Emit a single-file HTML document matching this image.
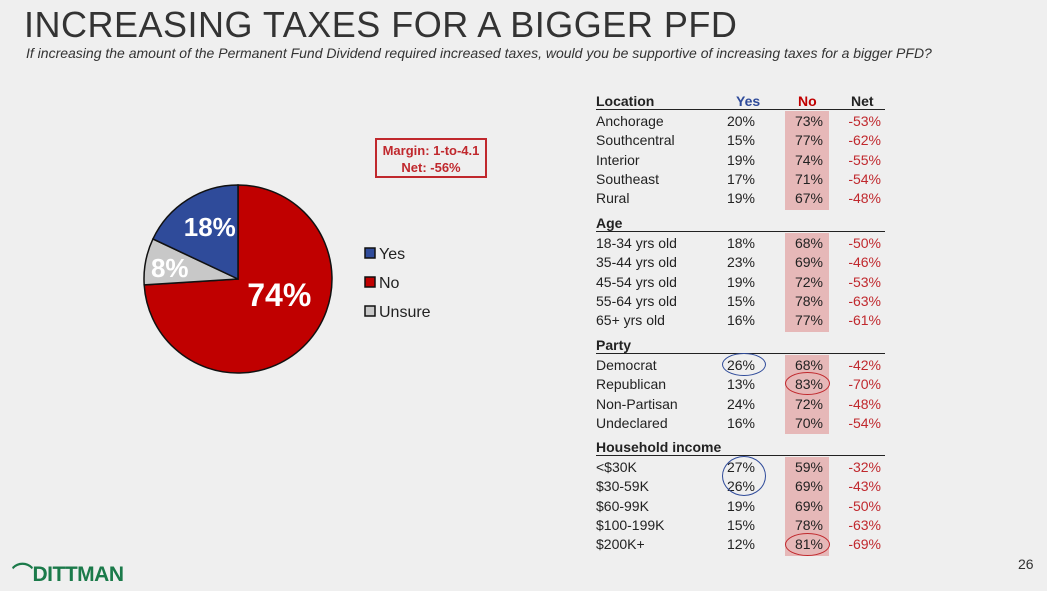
<!DOCTYPE html>
<html><head><meta charset="utf-8">
<style>
body{margin:0;width:1047px;height:591px;background:#efefef;font-family:"Liberation Sans",sans-serif;overflow:hidden;position:relative}
.a{position:absolute;white-space:nowrap}
.t{font-size:14px;color:#222;line-height:18px}
</style></head><body>
<div class="a" style="left:24px;top:4px;font-size:36px;color:#333;letter-spacing:0.5px">INCREASING TAXES FOR A BIGGER PFD</div>
<div class="a" style="left:26px;top:45px;font-size:14px;font-style:italic;color:#333">If increasing the amount of the Permanent Fund Dividend required increased taxes, would you be supportive of increasing taxes for a bigger PFD?</div>
<div class="a" style="left:375px;top:138px;width:112px;height:40px;border:2px solid #c0282d;box-sizing:border-box;color:#c0282d;font-weight:bold;font-size:13px;text-align:center;line-height:17px;padding-top:2px">Margin: 1-to-4.1<br>Net: -56%</div>
<svg id="pie" class="a" style="left:0;top:0" width="1047" height="591"></svg>
<div id="tbl"></div>
<div class="a" style="left:12px;top:558px;font-size:21px;font-weight:bold;color:#1b7a4a;letter-spacing:-0.5px">⌒DITTMAN</div>
<div class="a" style="left:1018px;top:556px;font-size:14px;color:#333">26</div>
<script>
const pieLabels=["No","Unsure","Yes"];
const pieValues=[74,8,18];
const pieColors=["#c00000","#c8c8c8","#2f4b9a"];
const legendOrder=["Yes","No","Unsure"];
const sections=["Location","Age","Party","Household income"];
const rowLabels=[["Anchorage","Southcentral","Interior","Southeast","Rural"],["18-34 yrs old","35-44 yrs old","45-54 yrs old","55-64 yrs old","65+ yrs old"],["Democrat","Republican","Non-Partisan","Undeclared"],["<$30K","$30-59K","$60-99K","$100-199K","$200K+"]];
const yesVals=[[20,15,19,17,19],[18,23,19,15,16],[26,13,24,16],[27,26,19,15,12]];
const noVals=[[73,77,74,71,67],[68,69,72,78,77],[68,83,72,70],[59,69,69,78,81]];
const netVals=[[-53,-62,-55,-54,-48],[-50,-46,-53,-63,-61],[-42,-70,-48,-54],[-32,-43,-50,-63,-69]];
const sectionTops=[92,214,336,438];
const NS="http://www.w3.org/2000/svg";
const svg=document.getElementById('pie');
const cx=238,cy=279,r=94;
const lblR=[0.5,0.62,0.62],lblDx=[7,-11,3],lblDy=[-5,9,6];
let total=pieValues.reduce((a,b)=>a+b,0),ang=0;
function pt(a,rr){return [cx+rr*Math.sin(a),cy-rr*Math.cos(a)];}
pieValues.forEach((v,i)=>{
 const a0=ang,a1=ang+v/total*2*Math.PI;ang=a1;
 const p0=pt(a0,r),p1=pt(a1,r);
 const p=document.createElementNS(NS,'path');
 p.setAttribute('d',`M${cx},${cy}L${p0[0]},${p0[1]}A${r},${r} 0 ${a1-a0>Math.PI?1:0} 1 ${p1[0]},${p1[1]}Z`);
 p.setAttribute('fill',pieColors[i]);p.setAttribute('stroke','#111');p.setAttribute('stroke-width','1.5');
 
 
 svg.appendChild(p);
 const m=(a0+a1)/2;const lp=pt(m,r*lblR[i]);
 const t=document.createElementNS(NS,'text');
 t.setAttribute('x',lp[0]+lblDx[i]);t.setAttribute('y',lp[1]+lblDy[i]);t.setAttribute('text-anchor','middle');
 t.setAttribute('fill','#fff');t.setAttribute('font-weight','bold');t.setAttribute('font-size',i==0?'32':'26');
 t.setAttribute('font-family','Liberation Sans, sans-serif');t.textContent=v+'%';
 
 
 svg.appendChild(t);
});
legendOrder.forEach((l,k)=>{
 const i=pieLabels.indexOf(l);const y=248+k*29;
 const rc=document.createElementNS(NS,'rect');
 rc.setAttribute('x',365);rc.setAttribute('y',y);rc.setAttribute('width',10);rc.setAttribute('height',10);
 rc.setAttribute('fill',pieColors[i]);rc.setAttribute('stroke','#111');rc.setAttribute('stroke-width','1.5');
 
 
 svg.appendChild(rc);
 const t=document.createElementNS(NS,'text');
 t.setAttribute('x',379);t.setAttribute('y',y+11);t.setAttribute('font-size','16');t.setAttribute('fill','#222');
 t.setAttribute('font-family','Liberation Sans, sans-serif');t.textContent=l;
 
 
 svg.appendChild(t);
});
const tbl=document.getElementById('tbl');
function div(txt,style,name){const d=document.createElement('div');d.className='a t';d.style.cssText=style;d.textContent=txt;
 
 
 tbl.appendChild(d);return d;}
const RH=19.3;
sections.forEach((s,si)=>{
 const top=sectionTops[si];const n=rowLabels[si].length;
 div('',`left:785px;top:${top+19}px;width:44px;height:${n*RH+2}px;background:#e6b8b8`,'no-column-shade');
 div(s,`left:596px;top:${top}px;font-weight:bold`,'section-header');
 div('',`left:596px;top:${top+17}px;width:289px;height:0;border-top:1.5px solid #222`,'section-rule');
 if(si==0){div('Yes',`left:736px;top:${top}px;font-weight:bold;color:#2f4b9a`,'yes-header');
  div('No',`left:798px;top:${top}px;font-weight:bold;color:#c00000`,'no-header');
  div('Net',`left:851px;top:${top}px;font-weight:bold`,'net-header');}
 rowLabels[si].forEach((l,ri)=>{
  const y=top+20+ri*RH;
  div(l,`left:596px;top:${y}px`,'row-label');
  div(yesVals[si][ri]+'%',`left:700px;width:55px;text-align:right;top:${y}px`,'yes-value');
  div(noVals[si][ri]+'%',`left:770px;width:53px;text-align:right;top:${y}px`,'no-value');
  div(netVals[si][ri]+'%',`left:820px;width:61px;text-align:right;top:${y}px;color:#c0282d`,'net-value');
 });
});
function ell(x,y,w,h,c){div('',`left:${x}px;top:${y}px;width:${w}px;height:${h}px;border:1.5px solid ${c};border-radius:50%;box-sizing:border-box`,'highlight-circle');}
ell(722,353,44,23,'#2f4b9a');ell(785,372,45,23,'#c0282d');ell(722,456,44,40,'#2f4b9a');ell(785,533,45,23,'#c0282d');
</script>
</body></html>
